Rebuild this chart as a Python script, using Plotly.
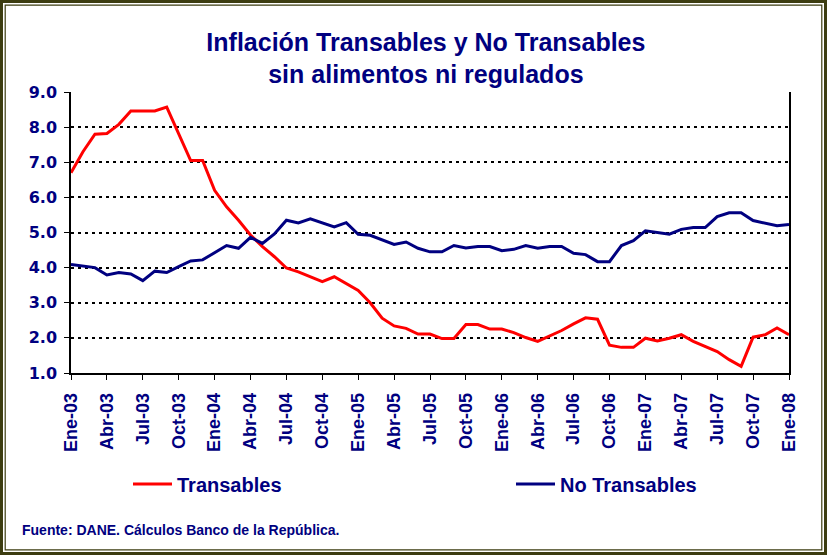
import plotly.graph_objects as go

meses = ["Ene", "Feb", "Mar", "Abr", "May", "Jun", "Jul", "Ago", "Sep", "Oct", "Nov", "Dic"]
anios = ["03", "04", "05", "06", "07", "08"]
periodos = [f"{m}-{a}" for a in anios for m in meses][:61]
etiquetas = periodos[::3]

transables = [6.7, 7.3, 7.8, 7.82, 8.08, 8.46, 8.46, 8.46, 8.57, 7.82,
              7.05, 7.05, 6.2, 5.73, 5.35, 4.93, 4.6, 4.31, 3.99, 3.88,
              3.74, 3.6, 3.74, 3.54, 3.35, 3.0, 2.56, 2.34, 2.27, 2.11,
              2.11, 1.98, 1.98, 2.38, 2.38, 2.25, 2.25, 2.15, 2.01, 1.9,
              2.06, 2.21, 2.4, 2.57, 2.53, 1.79, 1.73, 1.73, 1.99, 1.91,
              1.99, 2.09, 1.9, 1.76, 1.61, 1.38, 1.19, 2.02, 2.09, 2.28,
              2.09]
no_transables = [4.09, 4.05, 4.0, 3.79, 3.86, 3.82, 3.63, 3.9, 3.86, 4.03,
                 4.19, 4.22, 4.43, 4.63, 4.55, 4.86, 4.69, 4.96, 5.35, 5.27,
                 5.39, 5.28, 5.16, 5.28, 4.95, 4.92, 4.79, 4.66, 4.73, 4.55,
                 4.45, 4.45, 4.63, 4.56, 4.6, 4.6, 4.48, 4.52, 4.63, 4.55,
                 4.6, 4.6, 4.41, 4.37, 4.17, 4.17, 4.63, 4.77, 5.05, 4.99,
                 4.95, 5.09, 5.14, 5.14, 5.45, 5.56, 5.56, 5.34, 5.26, 5.19,
                 5.23]

W, H = 827, 555
L, R, T, B = 71, 38, 92, 182
PW, PH = W - L - R, H - T - B
NAVY = "#000080"
OLIVE = "#3c3c10"

fig = go.Figure()
fig.add_trace(go.Scatter(x=periodos, y=transables, mode="lines", name="Transables",
                         line=dict(color="#FF0000", width=3), legend="legend",
                         showlegend=True))
fig.add_trace(go.Scatter(x=periodos, y=no_transables, mode="lines", name="No Transables",
                         line=dict(color=NAVY, width=3), legend="legend2",
                         showlegend=True))

def px_x(p):
    return (p - L) / PW

def px_y(p):
    return (H - B - p) / PH

shapes = []
for inset, w in [(1.5, 3), (5.2, 1.2)]:
    shapes.append(dict(type="rect", xref="paper", yref="paper",
                       x0=px_x(inset), x1=px_x(W - inset),
                       y0=px_y(H - inset), y1=px_y(inset),
                       line=dict(color=OLIVE, width=w), layer="above"))

xfont = dict(family="Liberation Sans, Arial", size=18, color=NAVY, weight="bold")
yfont = dict(family="DejaVu Sans", size=16, color=NAVY, weight="bold")
legfont = dict(family="Liberation Sans, Arial", size=20, color=NAVY, weight="bold")

fig.update_layout(
    width=W, height=H, showlegend=True,
    margin=dict(l=L, r=R, t=T, b=B, autoexpand=False),
    paper_bgcolor="white", plot_bgcolor="white",
    title=dict(text="<b>Inflación Transables y No Transables<br>sin alimentos ni regulados</b>",
               font=dict(family="Liberation Sans, Arial", size=25, color=NAVY),
               x=0.515, xanchor="center", y=1 - 50.5 / H, yanchor="middle"),
    xaxis=dict(type="category", range=[0, 60], tickmode="array",
               tickvals=etiquetas, ticktext=etiquetas, tickangle=-90,
               tickfont=xfont, ticks="outside", ticklen=5, tickcolor="black",
               ticklabelstandoff=6,
               showline=True, linecolor="black", linewidth=1.5, showgrid=False,
               zeroline=False, automargin=False),
    yaxis=dict(range=[1, 9], dtick=1, tick0=1, tickformat=".1f", tickfont=yfont,
               ticks="outside", ticklen=5, tickcolor="black", ticklabelstandoff=4,
               showline=True, linecolor="black", linewidth=1.5, mirror=True,
               showgrid=True, gridcolor="black", gridwidth=2, griddash="3px,4px",
               zeroline=False, automargin=False),
    legend=dict(x=px_x(128), y=px_y(484), xanchor="left", yanchor="middle",
                bgcolor="rgba(0,0,0,0)", font=legfont, visible=True, itemwidth=39),
    legend2=dict(x=px_x(511), y=px_y(484), xanchor="left", yanchor="middle",
                 bgcolor="rgba(0,0,0,0)", font=legfont, visible=True, itemwidth=39),
    shapes=shapes,
    annotations=[dict(text="<b>Fuente: DANE. Cálculos Banco de la República.</b>",
                      xref="paper", yref="paper", x=px_x(20), y=px_y(530),
                      xanchor="left", yanchor="middle", showarrow=False,
                      font=dict(family="Liberation Sans, Arial", size=14, color=NAVY))],
)

fig.write_html("out.html", config={"displayModeBar": False},
               post_script="document.body.style.margin='0px';document.body.style.overflow='hidden';")
